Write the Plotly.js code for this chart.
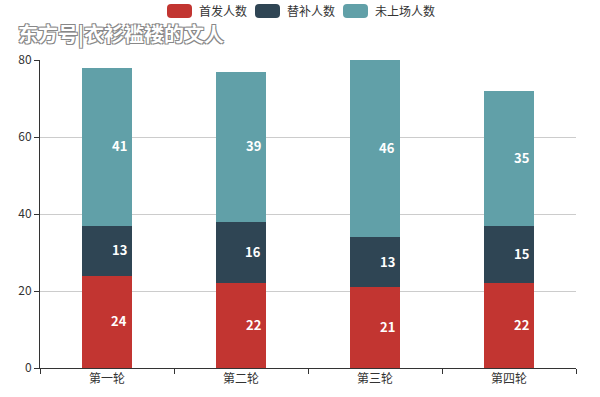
<!DOCTYPE html>
<html>
<head>
<meta charset="utf-8">
<script src="https://cdn.plot.ly/plotly-3.0.1.min.js"></script>
<style>html,body{margin:0;padding:0;background:#fff;}#chart{width:600px;height:397px;}</style>
</head>
<body>
<div id="chart"></div>
<script>
const categories = ["第一轮", "第二轮", "第三轮", "第四轮"];
const seriesNames = ["首发人数", "替补人数", "未上场人数"];
const starters = [24, 22, 21, 22];
const subs = [13, 16, 13, 15];
const unused = [41, 39, 46, 35];
const colors = ["#c23531", "#2f4554", "#61a0a8"];

const seriesValues = [starters, subs, unused];
const font = "'Noto Sans CJK SC', 'Microsoft YaHei', sans-serif";

const M = {l: 40, r: 24, t: 60, b: 29};
const W = 600, H = 397;
const pw = W - M.l - M.r, ph = H - M.t - M.b;
const px = (x) => (x - M.l) / pw;
const py = (y) => (H - M.b - y) / ph;

const traces = seriesValues.map((vals, i) => ({
  type: "bar",
  name: seriesNames[i],
  x: categories,
  y: vals,
  marker: {color: colors[i]},
  hoverinfo: "none"
}));

const annotations = [];
categories.forEach((c, ci) => {
  let base = 0;
  seriesValues.forEach((vals) => {
    const v = vals[ci];
    annotations.push({
      x: c, y: base + v / 2, xref: "x", yref: "y",
      text: String(v), showarrow: false, xshift: 12, yshift: 1,
      font: {family: font, size: 13, color: "#ffffff", weight: 600}
    });
    base += v;
  });
});

// custom legend (ECharts style rounded swatches)
const shapes = [];
const legendX = [167, 255, 343];
const swW = 25, swH = 14, swR = 4, legCy = 11;
seriesNames.forEach((name, i) => {
  const x0 = legendX[i], x1 = x0 + swW, y0 = legCy - swH / 2, y1 = legCy + swH / 2;
  const r = swR;
  const path = `M ${px(x0 + r)} ${py(y0)} L ${px(x1 - r)} ${py(y0)} Q ${px(x1)} ${py(y0)} ${px(x1)} ${py(y0 + r)} ` +
    `L ${px(x1)} ${py(y1 - r)} Q ${px(x1)} ${py(y1)} ${px(x1 - r)} ${py(y1)} L ${px(x0 + r)} ${py(y1)} ` +
    `Q ${px(x0)} ${py(y1)} ${px(x0)} ${py(y1 - r)} L ${px(x0)} ${py(y0 + r)} Q ${px(x0)} ${py(y0)} ${px(x0 + r)} ${py(y0)} Z`;
  shapes.push({type: "path", xref: "paper", yref: "paper", path: path,
    fillcolor: colors[i], line: {width: 0}, layer: "above"});
  annotations.push({
    xref: "paper", yref: "paper", x: px(x1 + 5), y: py(legCy),
    xanchor: "left", yanchor: "middle", showarrow: false,
    text: name, font: {family: font, size: 12, color: "#333"}
  });
});

const layout = {
  width: W, height: H,
  margin: M,
  barmode: "stack",
  bargap: 0.63,
  paper_bgcolor: "#fff",
  plot_bgcolor: "#fff",
  font: {family: font, size: 12, color: "#333"},
  title: {
    text: "东方号|衣衫褴褛的文人",
    x: 18 / W, xanchor: "left", xref: "container",
    y: 1 - 35 / H, yanchor: "middle", yref: "container",
    font: {family: font, size: 20, color: "#ffffff", weight: 700,
      shadow: "1px 1px 0 #888, -1px -1px 0 #888, 1px -1px 0 #888, -1px 1px 0 #888"}
  },
  showlegend: false,
  xaxis: {
    type: "category",
    tickson: "boundaries",
    ticks: "outside", ticklen: 5, tickcolor: "#333",
    showline: true, linecolor: "#333", linewidth: 1,
    showgrid: false, fixedrange: true,
    tickfont: {family: font, size: 12, color: "#333"}
  },
  yaxis: {
    range: [0, 80],
    tickvals: [0, 20, 40, 60, 80],
    ticks: "outside", ticklen: 5, tickcolor: "#333",
    showline: true, linecolor: "#333", linewidth: 1,
    showgrid: true, gridcolor: "#ccc",
    zeroline: false, fixedrange: true,
    tickfont: {family: font, size: 12, color: "#333"}
  },
  shapes: shapes,
  annotations: annotations
};

Plotly.newPlot("chart", traces, layout, {displayModeBar: false, staticPlot: true});
</script>
</body>
</html>
